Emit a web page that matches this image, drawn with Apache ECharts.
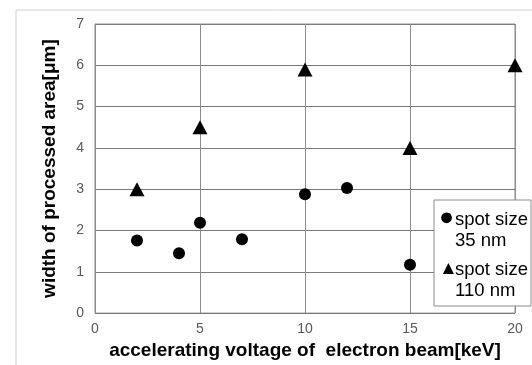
<!DOCTYPE html>
<html><head><meta charset="utf-8">
<script src="https://cdn.jsdelivr.net/npm/echarts@6/dist/echarts.min.js"></script>
<style>html,body{margin:0;padding:0;background:#fff}#c{width:532px;height:365px}</style>
</head><body><div id="c"></div>
<script>
const seriesNames = ['spot size 35 nm', 'spot size 110 nm'];
const legendLines = [['spot size', '35 nm'], ['spot size', '110 nm']];
const legendGlyphs = ['●', '▲'];
const spot35X = [2, 4, 5, 7, 10, 12, 15];
const spot35Y = [1.76, 1.45, 2.19, 1.79, 2.88, 3.03, 1.17];
const spot110X = [2, 5, 10, 15, 20];
const spot110Y = [3.0, 4.5, 5.9, 4.0, 6.0];
const xTitle = 'accelerating voltage of  electron beam[keV]';
const yTitle = 'width of processed area[μm]';

const chart = echarts.init(document.getElementById('c'), null, {renderer: 'canvas'});
const font = 'Liberation Sans, Arial, sans-serif';
chart.setOption({
  animation: false,
  backgroundColor: '#fff',
  graphic: [{type: 'rect', shape: {x: 16, y: 10, width: 530, height: 370}, style: {fill: 'none', stroke: '#d0d0d0', lineWidth: 1}, silent: true, z: -1}],
  grid: {left: 95, top: 24, width: 420, height: 290, show: true, borderColor: '#8c8c8c', borderWidth: 1},
  xAxis: {type: 'value', min: 0, max: 20, interval: 5,
    name: xTitle, nameLocation: 'middle', nameGap: 27,
    nameTextStyle: {fontFamily: font, fontSize: 19, fontWeight: 'bold', color: '#000'},
    axisLine: {show: false}, axisTick: {show: false},
    axisLabel: {fontFamily: font, fontSize: 14, color: '#595959', margin: 9},
    splitLine: {show: true, lineStyle: {color: '#8c8c8c', width: 1}}},
  yAxis: {type: 'value', min: 0, max: 7, interval: 1,
    name: yTitle, nameLocation: 'middle', nameGap: 36,
    nameTextStyle: {fontFamily: font, fontSize: 19, fontWeight: 'bold', color: '#000'},
    axisLine: {show: false}, axisTick: {show: false},
    axisLabel: {fontFamily: font, fontSize: 14, color: '#595959', margin: 11},
    splitLine: {show: true, lineStyle: {color: '#7a7a7a', width: 1}}},
  legend: {orient: 'vertical', left: 434, top: 200, itemGap: 8,
    padding: [6, 3, 5, 0], backgroundColor: '#fff', borderColor: '#8c8c8c', borderWidth: 1,
    icon: 'none', itemWidth: 0, itemHeight: 0,
    formatter: function (name) {
      const i = seriesNames.indexOf(name);
      return '{g' + i + '|' + legendGlyphs[i] + '}{t|' + legendLines[i][0] + '}\n{s| }{t|' + legendLines[i][1] + '}';
    },
    textStyle: {fontFamily: font, fontSize: 18.5, color: '#000', lineHeight: 21,
      rich: {
        g0: {fontFamily: 'Liberation Sans', fontSize: 25, width: 16, lineHeight: 21, color: '#000', padding: [0, 0, 2, 0]},
        g1: {fontFamily: 'Liberation Sans', fontSize: 19, width: 16, lineHeight: 21, color: '#000', padding: [0, 0, 2, 0]},
        s: {width: 16, fontSize: 18.5, lineHeight: 21},
        t: {fontFamily: font, fontSize: 18.5, lineHeight: 21, color: '#000'}
      }},
    data: seriesNames},
  series: [
    {name: seriesNames[0], type: 'scatter', symbol: 'circle', symbolSize: 12,
     itemStyle: {color: '#000', opacity: 1}, data: spot35X.map((x, i) => [x, spot35Y[i]])},
    {name: seriesNames[1], type: 'scatter', symbol: 'triangle', symbolSize: [15, 14],
     itemStyle: {color: '#000', opacity: 1}, data: spot110X.map((x, i) => [x, spot110Y[i]])}
  ]
});
</script></body></html>
